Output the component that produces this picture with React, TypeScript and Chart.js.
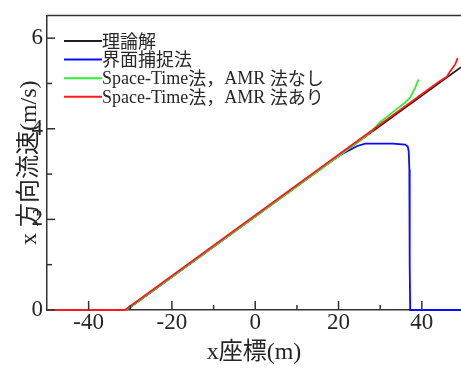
import React, { useEffect, useRef } from "react";
import { Chart, registerables } from "chart.js";

Chart.register(...registerables);

// ---- data ----
const seriesLabels = [
  "理論解",
  "界面捕捉法",
  "Space-Time法，AMR 法なし",
  "Space-Time法，AMR 法あり",
];

const theoryX = [-50, -31, 49.4];
const theoryY = [0, 0, 5.36];

const interfaceX = [-50, -31, 18, 20.4, 22.8, 24.5, 26.4, 30, 33, 36, 36.6, 36.85, 37.0, 37.08, 37.2, 49.4];
const interfaceY = [0, 0, 3.27, 3.42, 3.54, 3.62, 3.67, 3.67, 3.67, 3.65, 3.61, 3.5, 3.1, 1.0, 0, 0];

const stNoAmrX = [-50, -31, 25, 28, 30, 32, 34, 36, 37.2, 38.4, 39.2];
const stNoAmrY = [0, 0, 3.73, 3.95, 4.15, 4.29, 4.44, 4.58, 4.69, 4.91, 5.09];

const stAmrX = [-50, -31.3, 44, 46, 46.8, 48, 48.6];
const stAmrY = [0, 0, 5.03, 5.15, 5.27, 5.42, 5.56];

const seriesColors = ["#1f1f1f", "#0a0aff", "#33ee33", "#ff1a1a"];

const xMajorTicks = [-40, -20, 0, 20, 40];
const xMinorTicks = [-30, -10, 10, 30];
const yMajorTicks = [0, 2, 4, 6];
const yMinorTicks = [1, 3, 5];

const xTitle = "x座標(m)";
const yTitle = "x 方向流速(m/s)";

const toPoints = (xs: number[], ys: number[]) => xs.map((x, i) => ({ x, y: ys[i] }));

const TEXT = "#262626";
const AXIS = "#333333";
const LATIN = "'Liberation Serif', 'Times New Roman', serif";
const CJK = "'Noto Sans CJK JP', 'Noto Sans CJK SC', sans-serif";

function drawMixed(ctx: CanvasRenderingContext2D, text: string, x: number, y: number) {
  const isCJK = (ch: string) => /[\u3000-\u9fff\uff00-\uffef]/.test(ch);
  const runs: { t: string; c: boolean }[] = [];
  for (const ch of text) {
    const c = isCJK(ch);
    if (runs.length && runs[runs.length - 1].c === c) runs[runs.length - 1].t += ch;
    else runs.push({ t: ch, c });
  }
  let cx = x;
  for (const r of runs) {
    ctx.font = r.c ? `18px ${CJK}` : `18px ${LATIN}`;
    ctx.fillText(r.t, cx, r.c ? y : y + 1);
    cx += ctx.measureText(r.t).width;
  }
}

const decorPlugin = {
  id: "decor",
  afterDatasetsDraw(chart: any) {
    const { ctx, chartArea, scales } = chart;
    const xs = scales.x;
    const ys = scales.y;
    ctx.save();
    ctx.strokeStyle = AXIS;
    ctx.lineWidth = 1.5;
    // top border
    ctx.beginPath();
    ctx.moveTo(chartArea.left, chartArea.top);
    ctx.lineTo(chartArea.right, chartArea.top);
    ctx.stroke();
    // x ticks (inward)
    const tickX = (v: number, len: number) => {
      const p = xs.getPixelForValue(v);
      ctx.beginPath();
      ctx.moveTo(p, chartArea.bottom);
      ctx.lineTo(p, chartArea.bottom - len);
      ctx.stroke();
    };
    xMajorTicks.forEach((v) => tickX(v, 9));
    xMinorTicks.forEach((v) => tickX(v, 5));
    const tickY = (v: number, len: number) => {
      const p = ys.getPixelForValue(v);
      ctx.beginPath();
      ctx.moveTo(chartArea.left, p);
      ctx.lineTo(chartArea.left + len, p);
      ctx.stroke();
    };
    yMajorTicks.forEach((v) => tickY(v, 8));
    yMinorTicks.forEach((v) => tickY(v, 5));

    // legend
    const lx0 = chartArea.left + 17;
    const lx1 = lx0 + 38;
    const ly0 = 41;
    const gap = 18.6;
    seriesLabels.forEach((label, i) => {
      const y = ly0 + i * gap;
      ctx.strokeStyle = seriesColors[i];
      ctx.lineWidth = 2;
      ctx.beginPath();
      ctx.moveTo(lx0, y);
      ctx.lineTo(lx1, y);
      ctx.stroke();
      ctx.fillStyle = TEXT;
      ctx.textBaseline = "middle";
      ctx.textAlign = "left";
      drawMixed(ctx, label, lx1, y);
    });
    ctx.restore();
  },
};

export default function App() {
  const ref = useRef<HTMLCanvasElement | null>(null);
  useEffect(() => {
    if (!ref.current) return;
    const mk = (i: number, xs: number[], ys: number[], order: number) => ({
      label: seriesLabels[i],
      data: toPoints(xs, ys),
      borderColor: seriesColors[i],
      backgroundColor: seriesColors[i],
      borderWidth: 1.8,
      pointRadius: 0,
      tension: 0,
      fill: false,
      order,
      clip: { left: 0, top: 0, right: 0, bottom: 3 },
    });
    const chart = new Chart(ref.current, {
      type: "line",
      data: {
        datasets: [
          mk(0, theoryX, theoryY, 4),
          mk(1, interfaceX, interfaceY, 3),
          mk(2, stNoAmrX, stNoAmrY, 2),
          mk(3, stAmrX, stAmrY, 1),
        ] as any,
      },
      options: {
        animation: false,
        responsive: false,
        devicePixelRatio: 1,
        layout: { padding: { top: 10, right: 0, left: 0, bottom: 0 } },
        plugins: { legend: { display: false }, tooltip: { enabled: false } },
        scales: {
          x: {
            type: "linear",
            min: -50,
            max: 49.4,
            grid: { display: false, drawTicks: false, tickLength: 0 },
            border: { display: true, color: AXIS, width: 1.5 },
            afterBuildTicks: (s: any) => {
              s.ticks = xMajorTicks.map((v) => ({ value: v }));
            },
            afterFit: (s: any) => {
              s.height = 59;
            },
            ticks: {
              autoSkip: false,
              maxRotation: 0,
              color: TEXT,
              padding: 1,
              font: { family: LATIN, size: 23, lineHeight: 1 },
              callback: (v: any) => String(v),
            },
            title: {
              display: true,
              text: xTitle,
              color: TEXT,
              font: { family: `${LATIN.split(",")[0]}, ${CJK}`, size: 24 },
              padding: { top: 0, bottom: 2 },
            },
          },
          y: {
            type: "linear",
            min: 0,
            max: 6.5,
            grid: { display: false, drawTicks: false, tickLength: 0 },
            border: { display: true, color: AXIS, width: 1.5 },
            afterBuildTicks: (s: any) => {
              s.ticks = yMajorTicks.map((v) => ({ value: v }));
            },
            afterFit: (s: any) => {
              s.width = 47;
            },
            ticks: {
              autoSkip: false,
              color: TEXT,
              padding: 4,
              font: { family: LATIN, size: 23, lineHeight: 1 },
              callback: (v: any) => String(v),
            },
            title: {
              display: true,
              text: yTitle,
              color: TEXT,
              font: { family: `${LATIN.split(",")[0]}, ${CJK}`, size: 24 },
              padding: { top: 15, bottom: 0 },
            },
          },
        },
      },
      plugins: [decorPlugin],
    } as any);
    return () => chart.destroy();
  }, []);
  return (
    <div style={{ position: "fixed", left: 0, top: 0, width: 461, height: 369, background: "#fff" }}>
      <canvas ref={ref} width={461} height={369} />
    </div>
  );
}
